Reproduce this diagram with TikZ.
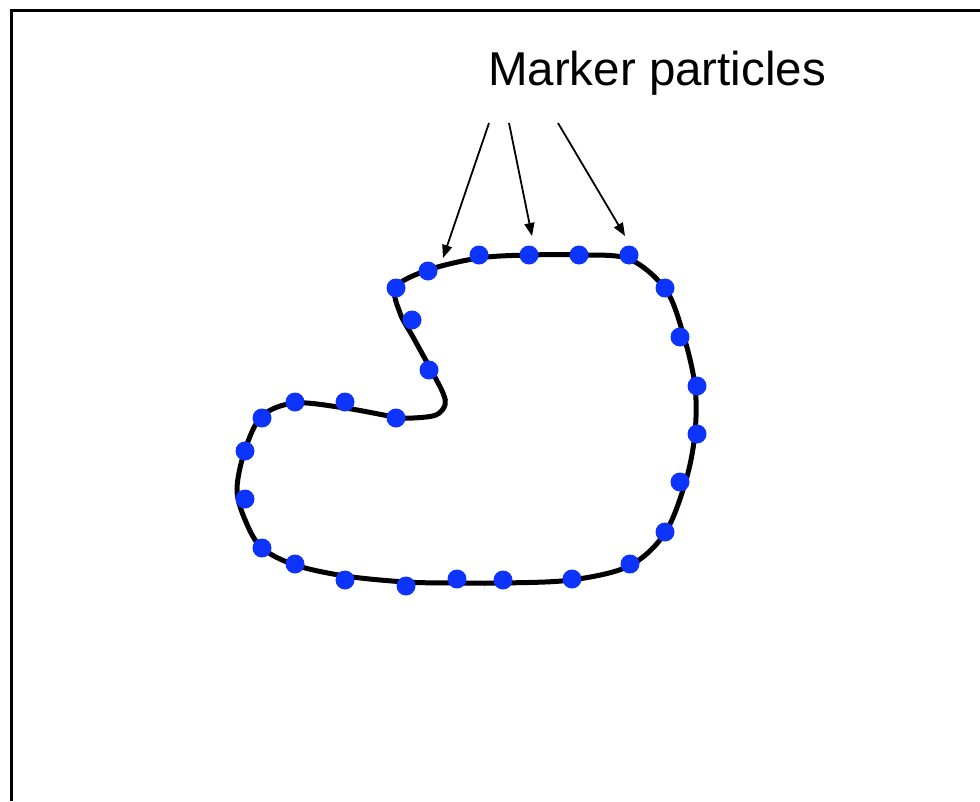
\documentclass[tikz,border=0pt]{standalone}
\usepackage{fontspec}
\setmainfont{Liberation Sans}
\usetikzlibrary{arrows.meta}
\definecolor{markerblue}{RGB}{12,52,252}
\begin{document}
\begin{tikzpicture}[x=1pt,y=-1pt,
  frame/.style={line width=3pt,black},
  interface/.style={line width=5pt,black},
  marker/.style={circle,fill=markerblue,inner sep=0pt,minimum size=19pt},
  pointer/.style={line width=1.8pt,-{Triangle[length=13pt,width=10pt]}},
  label/.style={font=\fontsize{47.5}{52}\selectfont}]
\useasboundingbox (0,0) rectangle (980,801);
\draw[frame] (11.5,801) -- (11.5,10.5) -- (980,10.5);
% interface curve
\draw[interface] plot[smooth cycle,tension=0.55] coordinates {
 (396,287) (400,313) (413,337) (430,368) (443,393) (445,405) (436,415)
 (413,418) (395,417) (345,408) (295,403) (262,416) (245,450) (237,490)
 (246,522) (262,548) (295,565) (345,576) (406,582) (457,583) (503,583)
 (571,580) (629,566) (665,533) (686,480) (695,433) (695,386) (684,337)
 (666,290) (629,259) (579,255) (529,255) (479,258) (428,270)};
% marker particles
\foreach \n/\p in {1/{(428,271)},2/{(479,255)},3/{(529,255)},4/{(579,255)},
  5/{(629,255)},6/{(665,288)},7/{(680,337)},8/{(697,386)},9/{(697,434)},
  10/{(680,482)},11/{(665,532)},12/{(630,564)},13/{(572,579)},14/{(503,580)},
  15/{(457,579)},16/{(406,586)},17/{(345,580)},18/{(295,564)},19/{(262,548)},
  20/{(245,499)},21/{(245,451)},22/{(262,418)},23/{(295,402)},24/{(345,402)},
  25/{(396,418)},26/{(429,370)},27/{(412,320)},28/{(396,288)}}
  \node[marker] (m\n) at \p {};
% label and pointers
\node[label,anchor=base] (lbl) at (657,85) {Marker particles};
\coordinate (s1) at (489,123);
\coordinate (s2) at (509,123);
\coordinate (s3) at (558,123);
\coordinate (t1) at (443,258);
\coordinate (t2) at (532,236);
\coordinate (t3) at (625,236);
\draw[pointer] (s1) -- (t1);
\draw[pointer] (s2) -- (t2);
\draw[pointer] (s3) -- (t3);
\end{tikzpicture}
\end{document}
